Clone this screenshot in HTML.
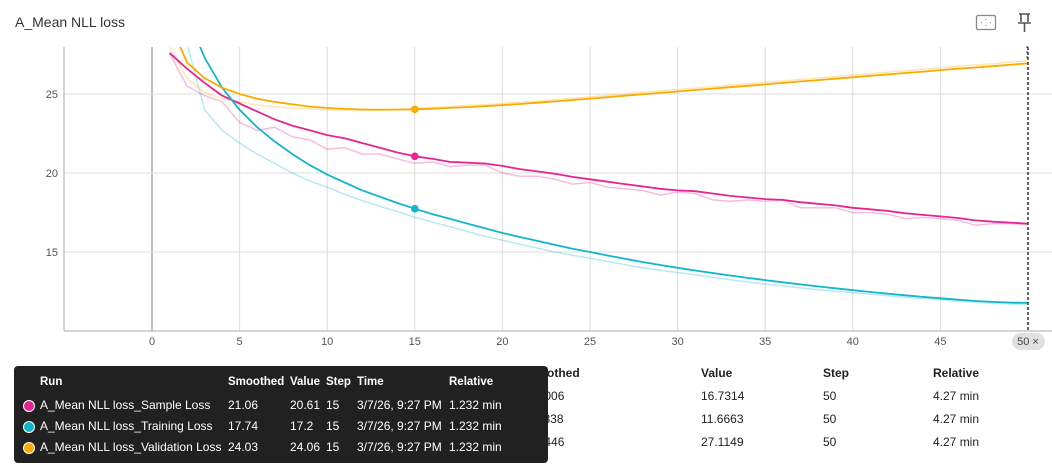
<!DOCTYPE html>
<html><head><meta charset="utf-8">
<style>
body{margin:0;width:1052px;height:465px;background:#fff;font-family:"Liberation Sans",sans-serif;overflow:hidden;position:relative}
.t{position:absolute;font-size:12px;color:#212121;white-space:nowrap}
.tt{position:absolute;font-size:11.5px;color:#fff;white-space:nowrap;font-weight:bold}
.tr{position:absolute;font-size:12px;color:#fff;white-space:nowrap}
</style></head><body>
<div class="t" style="left:15px;top:14px;font-size:14px;color:#333">A_Mean NLL loss</div>
<svg style="position:absolute;left:975px;top:12px" width="22" height="20"><rect x="1.5" y="3.5" width="19" height="14" rx="1.5" fill="none" stroke="#888" stroke-width="1.3"/><path d="M11 7v1M11 13v1M6 10.5h1M15 10.5h1" stroke="#888"/></svg>
<svg style="position:absolute;left:1016px;top:12px" width="18" height="22"><path d="M3 2h11M5 2v8M12 2v8M2 11h13M8.5 11v9" stroke="#555" stroke-width="1.6" fill="none"/></svg>
<svg style="position:absolute;left:1024px;top:44px" width="6" height="18"><circle cx="3" cy="3" r="1" fill="#777"/><circle cx="3" cy="8" r="1" fill="#777"/><circle cx="3" cy="13" r="1" fill="#777"/></svg>
<svg id="chart" style="position:absolute;left:0;top:0" width="1052" height="360"></svg>

<div class="t" style="left:65px;top:366px;font-weight:bold">Run ↑</div>
<div class="t" style="left:521px;top:366px;font-weight:bold">Smoothed</div>
<div class="t" style="left:701px;top:366px;font-weight:bold">Value</div>
<div class="t" style="left:823px;top:366px;font-weight:bold">Step</div>
<div class="t" style="left:933px;top:366px;font-weight:bold">Relative</div>
<div class="t" style="left:521px;top:389px">16.8006</div>
<div class="t" style="left:701px;top:389px">16.7314</div>
<div class="t" style="left:823px;top:389px">50</div>
<div class="t" style="left:933px;top:389px">4.27 min</div>
<div class="t" style="left:521px;top:412px">11.7838</div>
<div class="t" style="left:701px;top:412px">11.6663</div>
<div class="t" style="left:823px;top:412px">50</div>
<div class="t" style="left:933px;top:412px">4.27 min</div>
<div class="t" style="left:521px;top:435px">26.9446</div>
<div class="t" style="left:701px;top:435px">27.1149</div>
<div class="t" style="left:823px;top:435px">50</div>
<div class="t" style="left:933px;top:435px">4.27 min</div>

<div style="position:absolute;left:14px;top:366px;width:534px;height:97px;background:#212121;border-radius:4px">
<div class="tt" style="left:26px;top:10px">Run</div>
<div class="tt" style="left:214px;top:10px">Smoothed</div>
<div class="tt" style="left:276px;top:10px">Value</div>
<div class="tt" style="left:312px;top:10px">Step</div>
<div class="tt" style="left:343px;top:10px">Time</div>
<div class="tt" style="left:435px;top:10px">Relative</div>
<div style="position:absolute;left:9px;top:34px;width:10px;height:10px;border-radius:50%;background:#e52592;border:1.5px solid #fff"></div>
<div class="tr" style="left:26px;top:32px">A_Mean NLL loss_Sample Loss</div><div class="tr" style="left:214px;top:32px">21.06</div><div class="tr" style="left:276px;top:32px">20.61</div><div class="tr" style="left:312px;top:32px">15</div><div class="tr" style="left:343px;top:32px">3/7/26, 9:27 PM</div><div class="tr" style="left:435px;top:32px">1.232 min</div>
<div style="position:absolute;left:9px;top:55px;width:10px;height:10px;border-radius:50%;background:#12b5cb;border:1.5px solid #fff"></div>
<div class="tr" style="left:26px;top:53px">A_Mean NLL loss_Training Loss</div><div class="tr" style="left:214px;top:53px">17.74</div><div class="tr" style="left:276px;top:53px">17.2</div><div class="tr" style="left:312px;top:53px">15</div><div class="tr" style="left:343px;top:53px">3/7/26, 9:27 PM</div><div class="tr" style="left:435px;top:53px">1.232 min</div>
<div style="position:absolute;left:9px;top:76px;width:10px;height:10px;border-radius:50%;background:#f9ab00;border:1.5px solid #fff"></div>
<div class="tr" style="left:26px;top:74px">A_Mean NLL loss_Validation Loss</div><div class="tr" style="left:214px;top:74px">24.03</div><div class="tr" style="left:276px;top:74px">24.06</div><div class="tr" style="left:312px;top:74px">15</div><div class="tr" style="left:343px;top:74px">3/7/26, 9:27 PM</div><div class="tr" style="left:435px;top:74px">1.232 min</div>
</div>

<script>
const steps=[1,2,3,4,5,6,7,8,9,10,11,12,13,14,15,16,17,18,19,20,21,22,23,24,25,26,27,28,29,30,31,32,33,34,35,36,37,38,39,40,41,42,43,44,45,46,47,48,49,50];
const xTicks=[0,5,10,15,20,25,30,35,40,45];
const yTicks=[15,20,25];
const sampleRaw=[27.6,25.5,24.9,24.5,23.2,22.7,22.9,22.3,22.1,21.5,21.6,21.2,21.2,20.9,20.61,20.7,20.4,20.5,20.5,20.0,19.8,19.8,19.6,19.3,19.4,19.1,19.0,18.9,18.6,18.8,18.7,18.3,18.2,18.3,18.2,18.3,17.8,17.8,17.8,17.5,17.5,17.4,17.1,17.2,17.1,17.0,16.7,16.8,16.8,16.73];
const sampleSmooth=[27.6,26.6,25.7,24.9,24.4,23.9,23.4,23.0,22.7,22.4,22.2,21.9,21.6,21.3,21.06,20.9,20.7,20.65,20.6,20.45,20.25,20.1,19.95,19.75,19.6,19.45,19.3,19.15,19.0,18.9,18.85,18.7,18.55,18.45,18.35,18.3,18.15,18.05,17.95,17.8,17.7,17.6,17.45,17.35,17.25,17.15,17.0,16.92,16.86,16.8];
const trainRaw=[31,28.2,24.0,22.7,21.9,21.2,20.6,20.0,19.5,19.1,18.65,18.25,17.9,17.55,17.2,16.9,16.6,16.3,16.0,15.75,15.5,15.25,15.0,14.8,14.6,14.4,14.2,14.0,13.85,13.7,13.55,13.4,13.25,13.1,12.97,12.85,12.73,12.62,12.52,12.42,12.32,12.23,12.14,12.06,11.98,11.9,11.83,11.76,11.71,11.67];
const trainSmooth=[33,30,27.3,25.4,24.0,22.9,22.0,21.2,20.5,19.9,19.4,18.9,18.5,18.1,17.74,17.4,17.1,16.8,16.5,16.2,15.95,15.7,15.45,15.2,15.0,14.78,14.57,14.37,14.18,14.0,13.83,13.67,13.51,13.36,13.22,13.08,12.95,12.82,12.7,12.58,12.47,12.36,12.26,12.16,12.07,11.98,11.9,11.84,11.8,11.78];
const valRaw=[28,26.0,25.1,24.7,24.5,24.3,24.2,24.1,24.05,24.0,23.98,23.98,24.0,24.03,24.06,24.15,24.2,24.28,24.33,24.4,24.48,24.55,24.65,24.73,24.83,24.92,25.0,25.1,25.2,25.28,25.38,25.46,25.56,25.65,25.74,25.83,25.92,26.01,26.1,26.2,26.3,26.38,26.48,26.57,26.66,26.76,26.84,26.92,27.02,27.11];
const valSmooth=[29.5,27.0,26.0,25.4,25.0,24.7,24.5,24.35,24.2,24.12,24.06,24.02,24.0,24.01,24.03,24.07,24.12,24.17,24.23,24.3,24.37,24.45,24.53,24.62,24.71,24.8,24.89,24.98,25.07,25.16,25.25,25.34,25.43,25.52,25.61,25.7,25.79,25.88,25.97,26.06,26.15,26.24,26.33,26.42,26.51,26.6,26.68,26.76,26.85,26.94];
const hoverStep=15;

const NS="http://www.w3.org/2000/svg";
const svg=document.getElementById('chart');
const L=64,R=1052,T=47,B=331;
const xs=s=>152+(s-0)*(1028-152)/50;
const ys=v=>94+(25-v)*(173-94)/5;
function mk(tag,attrs,parent){const e=document.createElementNS(NS,tag);for(const k in attrs)e.setAttribute(k,attrs[k]);(parent||svg).appendChild(e);return e;}
const defs=mk('defs',{});const cp=mk('clipPath',{id:'clip'},defs);mk('rect',{x:L,y:T,width:R-L,height:B-T},cp);
xTicks.forEach(t=>{
  const g=mk('line',{x1:xs(t),x2:xs(t),y1:T,y2:B,stroke:t===0?'#aaa':'#ddd','stroke-width':t===0?1.5:1});
  
  
  const tx=mk('text',{x:xs(t),y:345,'text-anchor':'middle','font-size':11,fill:'#555','font-family':'Liberation Sans, sans-serif'});
  tx.textContent=t;
  
  
});
yTicks.forEach(t=>{
  const g=mk('line',{x1:L,x2:R,y1:ys(t),y2:ys(t),stroke:'#ddd','stroke-width':1});
  
  
  const tx=mk('text',{x:58,y:ys(t)+4,'text-anchor':'end','font-size':11,fill:'#555','font-family':'Liberation Sans, sans-serif'});
  tx.textContent=t;
  
  
});
const ya=mk('line',{x1:L,x2:L,y1:T,y2:B,stroke:'#aaa'});


const xa=mk('line',{x1:L,x2:R,y1:B,y2:B,stroke:'#aaa'});


function line(vals,color,w,op,name){
  const d=vals.map((v,i)=>(i?'L':'M')+xs(steps[i]).toFixed(1)+','+ys(v).toFixed(1)).join('');
  const p=mk('path',{d:d,fill:'none',stroke:color,'stroke-width':w,'stroke-opacity':op,'clip-path':'url(#clip)','stroke-linejoin':'round'});
  
  
}
line(sampleRaw,'#e52592',1.5,0.3,'sample-loss-raw-line');
line(trainRaw,'#12b5cb',1.5,0.3,'training-loss-raw-line');
line(valRaw,'#f9ab00',1.5,0.3,'validation-loss-raw-line');
line(sampleSmooth,'#e52592',1.8,1,'sample-loss-line');
line(trainSmooth,'#12b5cb',1.8,1,'training-loss-line');
line(valSmooth,'#f9ab00',1.8,1,'validation-loss-line');
const hi=steps.indexOf(hoverStep);
[[sampleSmooth,'#e52592','sample-hover-point'],[trainSmooth,'#12b5cb','training-hover-point'],[valSmooth,'#f9ab00','validation-hover-point']].forEach(([a,c,n])=>{
  const ci=mk('circle',{cx:xs(hoverStep),cy:ys(a[hi]),r:3.8,fill:c});
  
  
});
const vl=mk('line',{x1:xs(50),x2:xs(50),y1:T,y2:B,stroke:'#333','stroke-width':1.5,'stroke-dasharray':'3,2'});


const chip=mk('rect',{x:xs(50)-16,y:333,width:33,height:17,rx:8.5,fill:'#e0e0e0'});


const ct=mk('text',{x:xs(50),y:345,'text-anchor':'middle','font-size':11,fill:'#444','font-family':'Liberation Sans, sans-serif'});
ct.textContent='50 ×';


</script>
</body></html>
